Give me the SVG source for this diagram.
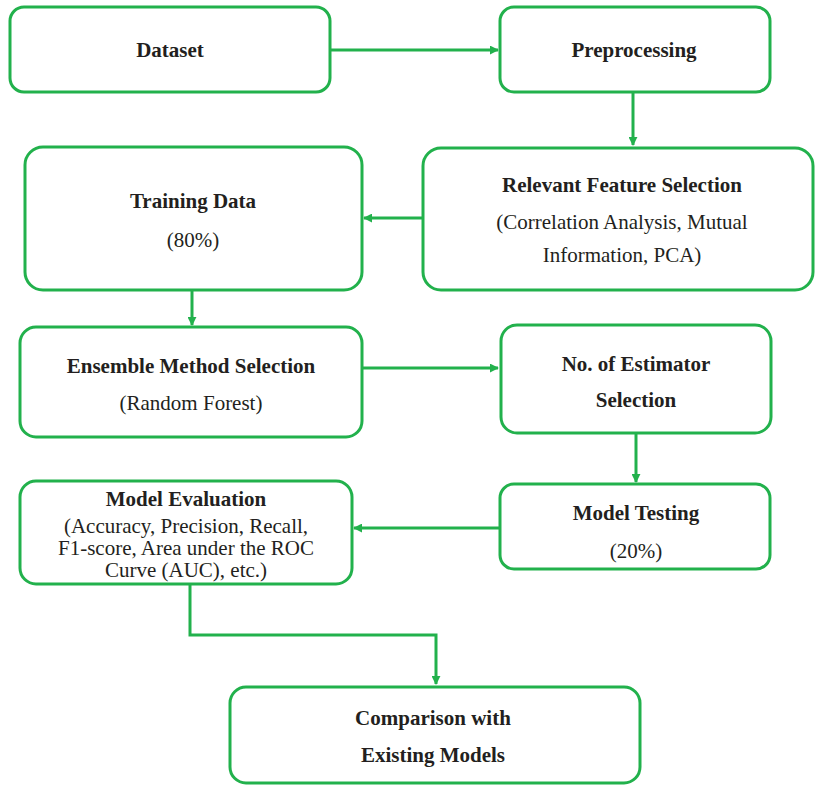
<svg xmlns="http://www.w3.org/2000/svg" width="815" height="785" viewBox="0 0 815 785">
<style>
.box{fill:#fff;stroke:#22b14c;stroke-width:3}
.c{fill:none;stroke:#22b14c;stroke-width:3}
.t{font-size:21px;fill:#231f20;text-anchor:middle}
.b{font-weight:bold}
</style>
<defs>
<marker id="ah" viewBox="0 0 10 10" refX="9" refY="5" markerWidth="9" markerHeight="9" markerUnits="userSpaceOnUse" orient="auto">
<path d="M0,0 L10,5 L0,10 z" fill="#22b14c"/>
</marker>
</defs>
<g id="connectors">
<line class="c" x1="331" y1="50" x2="498" y2="50" marker-end="url(#ah)"/>
<line class="c" x1="633" y1="93" x2="633" y2="145" marker-end="url(#ah)"/>
<line class="c" x1="423" y1="218" x2="364" y2="218" marker-end="url(#ah)"/>
<line class="c" x1="192" y1="291" x2="192" y2="325" marker-end="url(#ah)"/>
<line class="c" x1="363" y1="368" x2="498" y2="368" marker-end="url(#ah)"/>
<line class="c" x1="636" y1="433" x2="636" y2="482" marker-end="url(#ah)"/>
<line class="c" x1="500" y1="528" x2="354" y2="528" marker-end="url(#ah)"/>
<polyline class="c" points="190,585 190,635 436,635 436,684" marker-end="url(#ah)"/>
</g>
<g class="t" font-family="Liberation Serif, Times New Roman, serif">
<g id="dataset">
<rect class="box" x="10" y="7" width="320" height="85" rx="14"/>
<text class="b" x="170" y="57">Dataset</text>
</g>
<g id="preprocessing">
<rect class="box" x="500" y="7" width="270" height="85" rx="14"/>
<text class="b" x="634" y="57">Preprocessing</text>
</g>
<g id="feature-selection">
<rect class="box" x="423" y="148" width="390" height="142" rx="18"/>
<text class="b" x="622" y="192">Relevant Feature Selection</text>
<text x="622" y="229">(Correlation Analysis, Mutual</text>
<text x="622" y="262">Information, PCA)</text>
</g>
<g id="training-data">
<rect class="box" x="25" y="147" width="337" height="143" rx="18"/>
<text class="b" x="193" y="208">Training Data</text>
<text x="193" y="247">(80%)</text>
</g>
<g id="ensemble">
<rect class="box" x="20" y="327" width="342" height="110" rx="16"/>
<text class="b" x="191" y="373">Ensemble Method Selection</text>
<text x="191" y="410">(Random Forest)</text>
</g>
<g id="estimator">
<rect class="box" x="501" y="325" width="270" height="108" rx="16"/>
<text class="b" x="636" y="371">No. of Estimator</text>
<text class="b" x="636" y="407">Selection</text>
</g>
<g id="model-testing">
<rect class="box" x="500" y="484" width="270" height="85" rx="14"/>
<text class="b" x="636" y="520">Model Testing</text>
<text x="636" y="558">(20%)</text>
</g>
<g id="model-evaluation">
<rect class="box" x="20" y="481" width="332" height="103" rx="16"/>
<text class="b" x="186" y="506">Model Evaluation</text>
<text x="186" y="533">(Accuracy, Precision, Recall,</text>
<text x="186" y="555">F1-score, Area under the ROC</text>
<text x="186" y="577">Curve (AUC), etc.)</text>
</g>
<g id="comparison">
<rect class="box" x="230" y="687" width="410" height="96" rx="16"/>
<text class="b" x="433" y="725">Comparison with</text>
<text class="b" x="433" y="762">Existing Models</text>
</g>
</g>
</svg>
